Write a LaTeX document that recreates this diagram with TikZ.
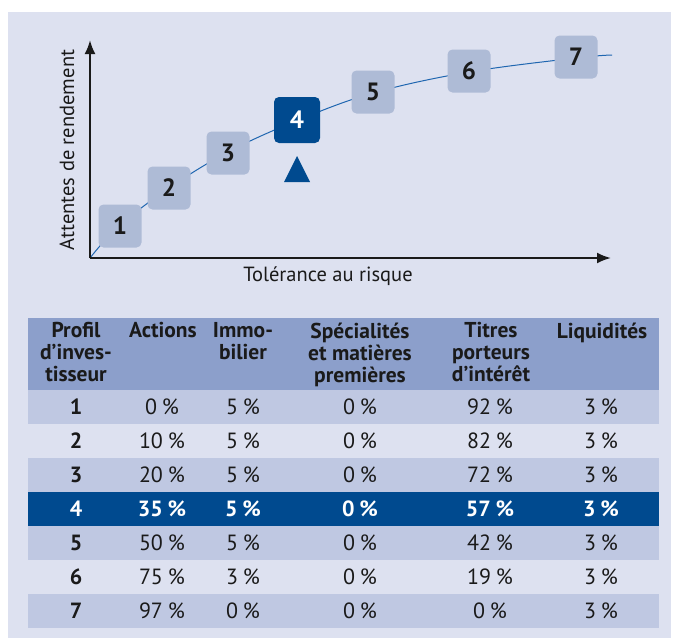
\documentclass[tikz,border=0pt]{standalone}
\usepackage{fontspec}
\setmainfont{PT Sans}
\usetikzlibrary{arrows.meta}
\begin{document}
\begin{tikzpicture}[x=1pt,y=-1pt,
  pbox/.style={rounded corners=5pt,minimum width=43pt,minimum height=43pt,inner sep=0pt,font=\fontsize{25}{28}\selectfont\bfseries},
  hdr/.style={anchor=north,align=center,font=\fontsize{21.5}{22}\selectfont\bfseries,text=txt},
  cell/.style={font=\fontsize{22}{24}\selectfont,text=txt},
  hcell/.style={font=\fontsize{22}{24}\selectfont\bfseries,text=white},
  alab/.style={font=\fontsize{20.5}{24}\selectfont,text=txt}]
\definecolor{bgcol}{HTML}{DDE1F0}
\definecolor{boxcol}{HTML}{AEBBD6}
\definecolor{dark}{HTML}{004A8F}
\definecolor{hdrcol}{HTML}{8C9FCB}
\definecolor{rowcol}{HTML}{BFC8E2}
\definecolor{curve}{HTML}{1F66B0}
\definecolor{txt}{HTML}{1A1A1A}
\newcommand{\pc}{\hspace{5pt}\%}
\useasboundingbox (0,0) rectangle (674,643);
\fill[white] (0,0) rectangle (674,643);
\fill[bgcol] (8,12) rectangle (671,638);
% axes
\coordinate (O) at (90,258);
\coordinate (ytop) at (90,40);
\coordinate (xend) at (611,258);
\draw[curve,line width=1pt] plot[smooth,tension=0.6] coordinates {(90,258) (119,226) (169,188) (228,152) (296,121) (373,93) (469,72) (576,58) (612,55)};
\draw[line width=2.2pt,txt,-{Latex[length=14pt,width=11pt]}] (O) -- (ytop);
\draw[line width=2.2pt,txt,-{Latex[length=14pt,width=11pt]}] (O) -- (xend);
\node[alab] (xl) at (328,276) {Tolérance au risque};
\node[alab,rotate=90] (yl) at (67,150) {Attentes de rendement};
% boxes
\node[pbox,fill=boxcol,text=txt] (b1) at (120,226) {1};
\node[pbox,fill=boxcol,text=txt] (b2) at (169,188) {2};
\node[pbox,fill=boxcol,text=txt] (b3) at (228,153) {3};
\node[pbox,fill=dark,text=white,minimum width=46pt,minimum height=46pt] (b4) at (297,120) {4};
\node[pbox,fill=boxcol,text=txt] (b5) at (373,92) {5};
\node[pbox,fill=boxcol,text=txt] (b6) at (469,71) {6};
\node[pbox,fill=boxcol,text=txt] (b7) at (576,57) {7};
\fill[dark] (284,182) -- (310,182) -- (297,156) -- cycle;
% table
\fill[hdrcol] (28,318) rectangle (659,390);
\foreach \r in {0,2,4,6} {\fill[rowcol] (28,390+\r*34) rectangle (659,424+\r*34);}
\fill[dark] (28,492) rectangle (659,526);
\node[hdr] (h1) at (76,319) {Profil\\d’inves-\\tisseur};
\node[hdr] (h2) at (163,319) {Actions};
\node[hdr] (h3) at (243,319) {Immo-\\bilier};
\node[hdr] (h4) at (360,319) {Spécialités\\et matières\\premières};
\node[hdr] (h5) at (491,319) {Titres\\porteurs\\d’intérêt};
\node[hdr] (h6) at (602,319) {Liquidités};
\foreach \n/\a/\b/\c/\d/\e [count=\i] in {1/0/5/0/92/3,2/10/5/0/82/3,3/20/5/0/72/3,4/35/5/0/57/3,5/50/5/0/42/3,6/75/3/0/19/3,7/97/0/0/0/3} {
  \pgfmathsetmacro{\yy}{407+(\i-1)*34}
  \ifnum\i=4
    \node[hcell] (r\i c0) at (76,\yy) {\n};
    \node[hcell] (r\i c1) at (162,\yy) {\a\pc};
    \node[hcell] (r\i c2) at (243,\yy) {\b\pc};
    \node[hcell] (r\i c3) at (360,\yy) {\c\pc};
    \node[hcell] (r\i c4) at (490,\yy) {\d\pc};
    \node[hcell] (r\i c5) at (601,\yy) {\e\pc};
  \else
    \node[cell,font=\fontsize{22}{24}\selectfont\bfseries] (r\i c0) at (76,\yy) {\n};
    \node[cell] (r\i c1) at (162,\yy) {\a\pc};
    \node[cell] (r\i c2) at (243,\yy) {\b\pc};
    \node[cell] (r\i c3) at (360,\yy) {\c\pc};
    \node[cell] (r\i c4) at (490,\yy) {\d\pc};
    \node[cell] (r\i c5) at (601,\yy) {\e\pc};
  \fi
}
\end{tikzpicture}
\end{document}
